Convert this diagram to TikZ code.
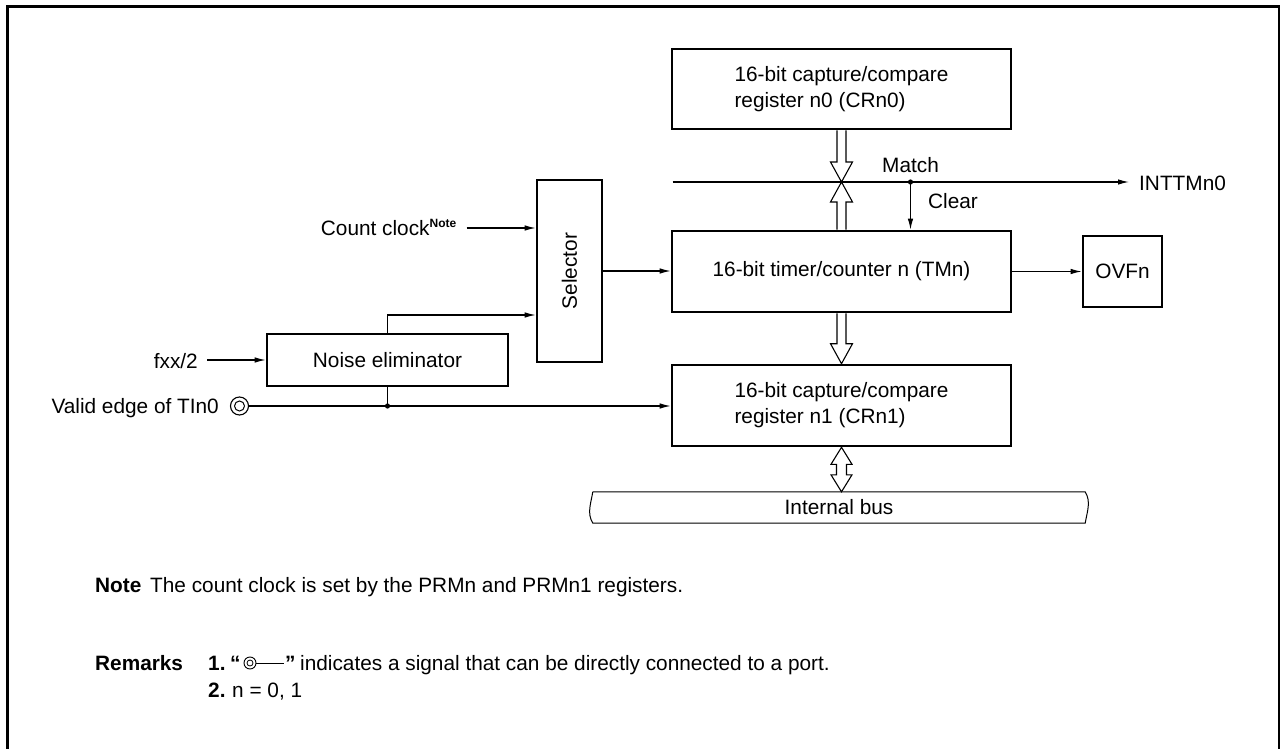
\documentclass[tikz,border=0pt]{standalone}
\usepackage{fontspec}
\setmainfont{Liberation Sans}
\usetikzlibrary{arrows.meta,calc}
\newcommand{\figfont}{\fontsize{20.8}{26}\selectfont}
\newcommand{\notefont}{\fontsize{20.8}{26}\selectfont}
\newcommand{\hdown}[2]{\draw[hollow] let \p1=(#1), \p2=(#2) in (\x1-4.5pt,\y1) -- (\x1-4.5pt,\y2+20pt) -- (\x1-11pt,\y2+20pt) -- (\x1,\y2) -- (\x1+11pt,\y2+20pt) -- (\x1+4.5pt,\y2+20pt) -- (\x1+4.5pt,\y1);}
\newcommand{\hup}[2]{\draw[hollow] let \p1=(#1), \p2=(#2) in (\x1-4.5pt,\y1) -- (\x1-4.5pt,\y2-20pt) -- (\x1-11pt,\y2-20pt) -- (\x1,\y2) -- (\x1+11pt,\y2-20pt) -- (\x1+4.5pt,\y2-20pt) -- (\x1+4.5pt,\y1);}
\newcommand{\hboth}[2]{\draw[hollow] let \p1=(#1), \p2=(#2) in (\x1,\y1) -- (\x1+10.5pt,\y1-17pt) -- (\x1+5pt,\y1-17pt) -- (\x1+5pt,\y2+17pt) -- (\x1+10.5pt,\y2+17pt) -- (\x1,\y2) -- (\x1-10.5pt,\y2+17pt) -- (\x1-5pt,\y2+17pt) -- (\x1-5pt,\y1-17pt) -- (\x1-10.5pt,\y1-17pt) -- cycle;}
\begin{document}
\begin{tikzpicture}[x=1pt,y=-1pt,
  box/.style={draw, line width=2.6pt, inner sep=0pt, font=\figfont},
  lbl/.style={inner sep=0pt, font=\figfont},
  sig/.style={line width=1.2pt, -{Latex[length=11pt,width=5.5pt]}},
  wire/.style={line width=1.2pt},
  hollow/.style={line width=1.1pt, fill=white, line join=miter},
  note/.style={inner sep=0pt, font=\notefont, anchor=base west}]
\useasboundingbox (0,0) rectangle (1280,749);
% outer frame
\draw[line width=3pt] (7,749) -- (7,7) -- (1279,7) -- (1279,749);

% blocks
\node[box, minimum width=339pt, minimum height=80pt, align=left] (crn0) at (841.5,89) {16-bit capture/compare\\register n0 (CRn0)};
\node[box, minimum width=339pt, minimum height=81pt] (tmn) at (841.5,271.5) {16-bit timer/counter n (TMn)};
\node[box, minimum width=339pt, minimum height=81pt, align=left] (crn1) at (841.5,405.5) {16-bit capture/compare\\register n1 (CRn1)};
\node[box, minimum width=65pt, minimum height=182pt] (sel) at (569.5,271) {};
\node[lbl, rotate=90] (selt) at (sel.center) {Selector};
\node[box, minimum width=241pt, minimum height=52pt] (noise) at (387.5,360) {Noise eliminator};
\node[box, minimum width=79pt, minimum height=71pt] (ovf) at (1122.5,271.5) {OVFn};
\node[lbl, minimum width=492pt, minimum height=31pt] (bus) at (839,507.5) {Internal bus};
\draw[wire, line width=1pt] (bus.north west) -- (bus.north east)
  .. controls ($(bus.north east)+(6,10)$) and ($(bus.south east)+(2,-12)$) .. (bus.south east)
  -- (bus.south west)
  .. controls ($(bus.south west)+(-6,-10)$) and ($(bus.north west)+(-2,12)$) .. (bus.north west);

% labels
\node[lbl, anchor=base east] (cc) at (457,235) {Count clock\textsuperscript{\bfseries\fontsize{12}{12}\selectfont Note}};
\node[lbl, anchor=base east] (fxx) at (198,368) {fxx/2};
\node[lbl, anchor=base east] (valid) at (219,413) {Valid edge of TIn0};
\node[lbl, anchor=base west] (intt) at (1139,190) {INTTMn0};
\node[lbl, anchor=base west] (match) at (882,172) {Match};
\node[lbl, anchor=base west] (clear) at (928,208) {Clear};

% port symbol
\node[circle, draw, line width=1.1pt, minimum size=18pt, inner sep=0pt] (port) at (239.5,406) {};
\draw[line width=1pt] (port.center) circle (5pt);

% match line
\coordinate (ml) at (672.5,182);
\coordinate (mx) at (841.5,182);
\coordinate (md) at (910.5,182);
\coordinate (me) at (1129,182);
\draw[sig] (ml) -- (me);
\fill (md) circle (2.6pt);
\draw[sig] (md) -- (md |- tmn.north);

% hollow arrows
\hdown{crn0.south}{mx}
\hup{tmn.north}{mx}
\hdown{tmn.south}{crn1.north}
\hboth{crn1.south}{bus.north}

% signal connectors
\coordinate (ccs) at (466.5,228);
\draw[sig] (ccs) -- (ccs -| sel.west);
\coordinate (fxs) at (207,360);
\draw[sig] (fxs) -- (noise.west);
\draw[sig] (noise.north) |- ([yshift=-44pt]sel.west);
\draw[sig] (sel.east) -- (sel.east -| tmn.west);
\draw[sig] (tmn.east) -- (ovf.west);
\draw[sig] (port.east) -- (port.east -| crn1.west);
\draw[wire] (noise.south) -- (noise.south |- port.east);
\fill (noise.south |- port.east) circle (2.6pt);

% notes
\node[note, font=\notefont\bfseries] (nt) at (95,592) {Note};
\node[note] (ntt) at (150,592) {The count clock is set by the PRMn and PRMn1 registers.};
\node[note, font=\notefont\bfseries] (rm) at (95,670) {Remarks};
\node[note, font=\notefont\bfseries] (r1) at (208,670) {1.};
\node[note, font=\notefont\bfseries] (q1) at (230,670) {“};
\node[circle, draw, line width=0.9pt, minimum size=12pt, inner sep=0pt] (rport) at (250,663) {};
\draw[line width=0.8pt] (rport.center) circle (3pt);
\coordinate (rl) at (284,663);
\draw[line width=1pt] (rport.east) -- (rl);
\node[note, font=\notefont\bfseries] (q2) at (285,670) {”};
\node[note] (r1t) at (300,670) {indicates a signal that can be directly connected to a port.};
\node[note, font=\notefont\bfseries] (r2) at (208,697) {2.};
\node[note] (r2t) at (232,697) {n = 0, 1};
\end{tikzpicture}
\end{document}
